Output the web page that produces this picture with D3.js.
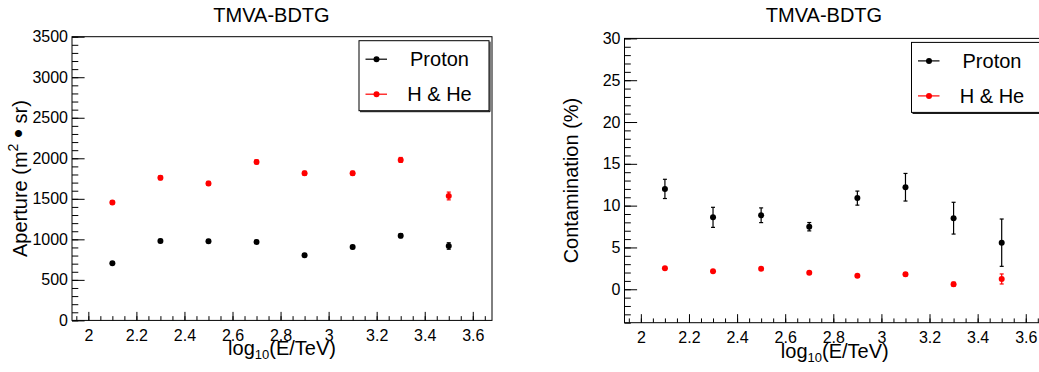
<!DOCTYPE html>
<html>
<head>
<meta charset="utf-8">
<script src="https://cdn.jsdelivr.net/npm/d3@7"></script>
<style>
  body { margin: 0; background: #fff; }
  svg { display: block; font-family: "Liberation Sans", Arial, Helvetica, sans-serif; }
</style>
</head>
<body>
<div id="chart"></div>
<script>
// Energy bins (log10(E/TeV)), shared by both panels.
const energies = [2.1, 2.3, 2.5, 2.7, 2.9, 3.1, 3.3, 3.5];

// Left panel: aperture in m^2 sr.
const apertureProton    = [705, 980, 978, 968, 805, 905, 1045, 918];
const apertureProtonErr = [15, 20, 20, 20, 20, 20, 25, 40];
const apertureHHe       = [1455, 1760, 1690, 1955, 1815, 1815, 1980, 1535];
const apertureHHeErr    = [20, 25, 25, 25, 25, 25, 30, 48];

// Right panel: contamination in percent.
const contamProton    = [12.0, 8.6, 8.85, 7.48, 10.9, 12.2, 8.5, 5.57];
const contamProtonErr = [1.15, 1.2, 0.88, 0.5, 0.84, 1.65, 1.9, 2.83];
const contamHHe       = [2.5, 2.15, 2.46, 1.98, 1.6, 1.79, 0.6, 1.23];
const contamHHeErr    = [0.15, 0.15, 0.15, 0.15, 0.15, 0.2, 0.25, 0.6];

// Axis tick labels.
const xTickValues = [2, 2.2, 2.4, 2.6, 2.8, 3, 3.2, 3.4, 3.6];
const apertureTicks = [0, 500, 1000, 1500, 2000, 2500, 3000, 3500];
const contamTicks = [0, 5, 10, 15, 20, 25, 30];

const seriesNames = ["Proton", "H & He"];
const seriesColors = ["#000000", "#ff0000"];

const width = 1039;
const height = 372;
const X_DOMAIN = [1.932, 3.68];
const MARKER_R = 3;

const svg = d3.select("#chart").append("svg")
  .attr("width", width)
  .attr("height", height);

svg.append("rect").attr("width", width).attr("height", height).attr("fill", "#fff");

// strip d3's default axis styling so the svg font applies
function plainAxis(a) {
  a.attr("font-family", null).attr("font-size", 16);
  a.select(".domain").remove();
  a.selectAll(".tick line").attr("stroke", "#000");
  a.selectAll(".tick text").attr("fill", "#000");
}

/**
 * Draws one ROOT-style graph pad: frame, inward ticks, labels, error-bar points, legend.
 */
function drawPanel(p) {
  const x = d3.scaleLinear().domain(X_DOMAIN).range([p.left, p.right]);
  const y = d3.scaleLinear().domain(p.yDomain).range([p.bottom, p.top]);
  const g = svg.append("g");

  // frame
  g.append("rect")
    .attr("x", p.left).attr("y", p.top)
    .attr("width", p.right - p.left).attr("height", p.bottom - p.top)
    .attr("fill", "none").attr("stroke", "#000").attr("stroke-width", 1);

  const frameH = p.bottom - p.top;
  const frameW = p.right - p.left;

  // x axis: major + minor ticks pointing up into the frame
  const xMinor = d3.range(Math.ceil(X_DOMAIN[0] / 0.05), Math.floor(X_DOMAIN[1] / 0.05) + 1)
    .map(k => +(k * 0.05).toFixed(2));
  g.append("g")
    .attr("transform", `translate(0,${p.bottom})`)
    .call(d3.axisBottom(x).tickValues(xMinor).tickFormat("").tickSizeInner(-frameH * 0.015).tickSizeOuter(0))
    .call(plainAxis);
  g.append("g")
    .attr("transform", `translate(0,${p.bottom})`)
    .call(d3.axisBottom(x).tickValues(xTickValues).tickFormat(d => String(d))
      .tickSizeInner(-frameH * 0.03).tickSizeOuter(0).tickPadding(9))
    .call(plainAxis);

  // y axis
  const yMinor = d3.range(Math.ceil(p.yDomain[0] / p.yMinorStep), Math.floor(p.yDomain[1] / p.yMinorStep) + 1)
    .map(k => k * p.yMinorStep);
  g.append("g")
    .attr("transform", `translate(${p.left},0)`)
    .call(d3.axisLeft(y).tickValues(yMinor).tickFormat("").tickSizeInner(-frameW * 0.015).tickSizeOuter(0))
    .call(plainAxis);
  g.append("g")
    .attr("transform", `translate(${p.left},0)`)
    .call(d3.axisLeft(y).tickValues(p.yTicks).tickFormat(d => String(d))
      .tickSizeInner(-frameW * 0.03).tickSizeOuter(0).tickPadding(4))
    .call(plainAxis);

  // title
  g.append("text")
    .attr("x", p.left + 199.5).attr("y", 21.7)
    .attr("text-anchor", "middle")
    .attr("font-size", 20)
    .text("TMVA-BDTG");

  // x label: log_{10}(E/TeV)
  const xl = g.append("text")
    .attr("x", (p.left + p.right) / 2).attr("y", p.bottom + 35)
    .attr("text-anchor", "middle")
    .attr("font-size", 20);
  xl.append("tspan").text("log");
  xl.append("tspan").attr("font-size", 13).attr("dy", 4).text("10");
  xl.append("tspan").attr("dy", -4).text("(E/TeV)");

  // y label
  const yl = g.append("text")
    .attr("transform", `translate(${p.yLabelX},${(p.top + p.bottom) / 2}) rotate(-90)`)
    .attr("text-anchor", "middle")
    .attr("font-size", 20);
  p.yLabel(yl);

  // points with error bars
  p.series.forEach((s, si) => {
    const color = seriesColors[si];
    const pts = energies.map((e, i) => ({ e, v: s.values[i], err: s.errors[i] }));
    const sg = g.append("g");
    sg.selectAll("line.bar").data(pts).join("line")
      .attr("class", "bar")
      .attr("x1", d => x(d.e)).attr("x2", d => x(d.e))
      .attr("y1", d => y(d.v - d.err)).attr("y2", d => y(d.v + d.err))
      .attr("stroke", color).attr("stroke-width", 1.2);
    [-1, 1].forEach(sign => {
      sg.selectAll(`line.cap${sign}`).data(pts).join("line")
        .attr("class", `cap${sign}`)
        .attr("x1", d => x(d.e) - 2).attr("x2", d => x(d.e) + 2)
        .attr("y1", d => y(d.v + sign * d.err)).attr("y2", d => y(d.v + sign * d.err))
        .attr("stroke", color).attr("stroke-width", 1.2);
    });
    sg.selectAll("circle").data(pts).join("circle")
      .attr("cx", d => x(d.e)).attr("cy", d => y(d.v))
      .attr("r", MARKER_R).attr("fill", color);
  });

  // legend
  const lx = p.left + 287, ly = p.top + 4;
  const lw = p.right - 3 - lx, lh = 70;
  const lg = g.append("g");
  lg.append("rect").attr("x", lx).attr("y", ly).attr("width", lw).attr("height", lh)
    .attr("fill", "#fff").attr("stroke", "#000").attr("stroke-width", 1);
  lg.append("path")
    .attr("d", `M${lx + 1},${ly + lh + 1}H${lx + lw + 1}V${ly + 1}`)
    .attr("fill", "none").attr("stroke", "#000").attr("stroke-width", 1);
  seriesNames.forEach((name, i) => {
    const cy = ly + 18.5 + i * 35;
    lg.append("line")
      .attr("x1", lx + 6.5).attr("x2", lx + 28)
      .attr("y1", cy).attr("y2", cy)
      .attr("stroke", seriesColors[i]).attr("stroke-width", 1.2);
    lg.append("circle").attr("cx", lx + 17.5).attr("cy", cy).attr("r", MARKER_R).attr("fill", seriesColors[i]);
    lg.append("text")
      .attr("x", lx + 80.5).attr("y", cy + 7)
      .attr("text-anchor", "middle")
      .attr("font-size", 20)
      .text(name);
  });
}

drawPanel({
  left: 72, right: 492, top: 36.7, bottom: 320.4,
  yDomain: [0, 3500], yTicks: apertureTicks, yMinorStep: 100,
  yLabelX: 27,
  yLabel: t => {
    t.append("tspan").text("Aperture (m");
    t.append("tspan").attr("font-size", 14).attr("dy", -9).text("2");
    t.append("tspan").attr("dy", 9).text(" ");
    t.append("tspan").attr("font-size", 26).text("•");
    t.append("tspan").text(" sr)");
  },
  series: [
    { values: apertureProton, errors: apertureProtonErr },
    { values: apertureHHe, errors: apertureHHeErr }
  ]
});

drawPanel({
  left: 624.5, right: 1045, top: 38.4, bottom: 322.7,
  yDomain: [-4, 30], yTicks: contamTicks, yMinorStep: 1,
  yLabelX: 578,
  yLabel: t => t.text("Contamination (%)"),
  series: [
    { values: contamProton, errors: contamProtonErr },
    { values: contamHHe, errors: contamHHeErr }
  ]
});
</script>
</body>
</html>
